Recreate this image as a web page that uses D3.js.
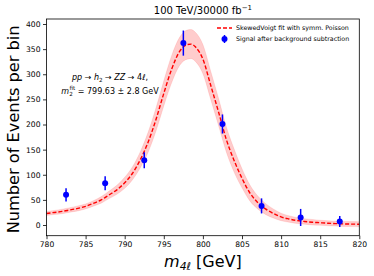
<!DOCTYPE html>
<html>
<head>
<meta charset="utf-8">
<script src="https://cdn.jsdelivr.net/npm/d3@7"></script>
<style>
  body { margin: 0; background: #fff; }
  svg text { font-family: "DejaVu Sans", sans-serif; }
</style>
</head>
<body>
<svg id="chart" width="374" height="276"></svg>
<script>
// data points (bin centers), background subtracted
const binCenters = [782.5, 787.5, 792.5, 797.5, 802.5, 807.5, 812.5, 817.5];
const signalVals = [60, 83, 129, 362, 201, 38, 15, 7];
const signalErrs = [13, 14, 16, 25, 19, 15, 17, 11];

// fitted curve
const fitX  = [780, 781, 782, 783, 784, 785, 786, 787, 788, 789, 790, 791, 792, 793, 794, 795, 796, 797, 798, 798.5, 799, 800, 801, 802, 803, 804, 805, 806, 807, 808, 809, 810, 811, 812, 813, 814, 815, 816, 817, 818, 819, 820];
const fitY  = [23, 25, 27, 30, 33, 37, 43, 50, 60, 70, 84, 103, 130, 165, 210, 262, 310, 345, 359, 360, 355, 330, 278, 225, 170, 128, 93, 64, 45, 32, 23, 16, 12, 9, 7, 5.5, 4.5, 3.5, 2.8, 2.2, 1.8, 1.5];
const fitErr = [4, 4, 4.5, 4.5, 5, 5, 5.5, 6.5, 7.5, 9, 11, 13, 16, 20, 23, 25, 27, 28, 29, 29, 29, 29, 28, 27, 25, 23, 19, 16, 13, 11, 9, 7.5, 6.5, 6, 5.5, 5.5, 5, 5, 5, 5, 5, 5];

const xTicks = [780, 785, 790, 795, 800, 805, 810, 815, 820];
const yTicks = [0, 50, 100, 150, 200, 250, 300, 350, 400];

const svg = d3.select('#chart');
const mLeft = 46.5, mRight = 359.3, mTop = 19, mBottom = 235.7;

const x = d3.scaleLinear().domain([780, 820]).range([mLeft, mRight]);
const y = d3.scaleLinear().domain([0, 400]).range([225, 24]);
y.domain([y.invert(mBottom), y.invert(mTop)]).range([mBottom, mTop]);

const fit = fitX.map(function(d, i){ return {x: d, y: fitY[i], e: fitErr[i]} });
const pts = binCenters.map(function(d, i){ return {x: d, y: signalVals[i], e: signalErrs[i]} });

const plot = svg.append('g');
plot.append('clipPath').attr('id', 'clip')
    .append('rect').attr('x', mLeft).attr('y', mTop).attr('width', mRight - mLeft).attr('height', mBottom - mTop);

// band
plot.append('path')
    .datum(fit)
    .attr('clip-path', 'url(#clip)')
    .attr('fill', 'red')
    .attr('fill-opacity', 0.2)
    .attr('stroke', 'red')
    .attr('stroke-opacity', 0.12)
    .attr('stroke-width', 0.8)
    .attr('d', d3.area().curve(d3.curveMonotoneX)
        .x(function(d){ return x(d.x) })
        .y0(function(d){ return y(d.y - d.e) })
        .y1(function(d){ return y(d.y + d.e) }));

// fit line
plot.append('path')
    .datum(fit)
    .attr('clip-path', 'url(#clip)')
    .attr('fill', 'none')
    .attr('stroke', 'red')
    .attr('stroke-width', 1.4)
    .attr('stroke-dasharray', '4,2')
    .attr('d', d3.line().curve(d3.curveMonotoneX)
        .x(function(d){ return x(d.x) })
        .y(function(d){ return y(d.y) }));

// error bars + points
plot.selectAll('line.err')
    .data(pts)
    .enter()
    .append('line')
    .attr('x1', function(d){ return x(d.x) })
    .attr('x2', function(d){ return x(d.x) })
    .attr('y1', function(d){ return y(d.y - d.e) })
    .attr('y2', function(d){ return y(d.y + d.e) })
    .attr('stroke', 'blue')
    .attr('stroke-width', 1.5);

plot.selectAll('circle')
    .data(pts)
    .enter()
    .append('circle')
    .attr('cx', function(d){ return x(d.x) })
    .attr('cy', function(d){ return y(d.y) })
    .attr('r', 3)
    .attr('fill', 'blue');

// axes
const xAxis = svg.append('g')
    .attr('transform', 'translate(0,' + mBottom + ')')
    .call(d3.axisBottom(x).tickValues(xTicks).tickSize(3.5).tickPadding(2.5));
const yAxis = svg.append('g')
    .attr('transform', 'translate(' + mLeft + ',0)')
    .call(d3.axisLeft(y).tickValues(yTicks).tickSize(3.5).tickPadding(2.5));
[xAxis, yAxis].forEach(function(a){
    a.select('.domain').remove();
    a.selectAll('text').attr('font-size', 7.6).attr('fill', '#000').attr('font-family', '"DejaVu Sans", sans-serif');
    a.selectAll('line').attr('stroke', '#000').attr('stroke-width', 0.8);
});

svg.append('rect')
    .attr('x', mLeft).attr('y', mTop)
    .attr('width', mRight - mLeft).attr('height', mBottom - mTop)
    .attr('fill', 'none').attr('stroke', '#000').attr('stroke-width', 0.8);

// title
const title = svg.append('text')
    .attr('x', (mLeft + mRight) / 2).attr('y', 14)
    .attr('text-anchor', 'middle').attr('font-size', 10);
title.append('tspan').text('100 TeV/30000 fb');
title.append('tspan').attr('dy', -4).attr('font-size', 7).text('\u22121');

// axis labels
svg.append('text')
    .attr('transform', 'translate(19,' + ((mTop + mBottom) / 2 + 2) + ') rotate(-90)')
    .attr('text-anchor', 'middle')
    .attr('font-size', 16.2)
    .text('Number of Events per bin');

const xl = svg.append('text')
    .attr('x', (mLeft + mRight) / 2).attr('y', 267)
    .attr('text-anchor', 'middle').attr('font-size', 16);
xl.append('tspan').attr('font-style', 'italic').text('m');
xl.append('tspan').attr('dy', 3).attr('font-size', 10.8).attr('font-style', 'italic').text('4\u2113');
xl.append('tspan').attr('dy', -3).text(' [GeV]');

// annotation
const a1 = svg.append('text')
    .attr('x', 110).attr('y', 80)
    .attr('text-anchor', 'middle').attr('font-size', 8);
a1.append('tspan').attr('font-style', 'italic').text('pp');
a1.append('tspan').text(' \u2192 ');
a1.append('tspan').attr('font-style', 'italic').text('h');
a1.append('tspan').attr('dy', 2).attr('font-size', 5.6).text('2');
a1.append('tspan').attr('dy', -2).text(' \u2192 ');
a1.append('tspan').attr('font-style', 'italic').text('ZZ');
a1.append('tspan').text(' \u2192 4');
a1.append('tspan').attr('font-style', 'italic').text('\u2113');
a1.append('tspan').text(',');

const a2 = svg.append('text')
    .attr('x', 110).attr('y', 94)
    .attr('text-anchor', 'middle').attr('font-size', 8);
a2.append('tspan').attr('font-style', 'italic').text('m');
a2.append('tspan').attr('dy', 2).attr('font-size', 5.6).text('2');
a2.append('tspan').attr('dy', -6).attr('dx', -3.2).attr('font-size', 5.6).text('fit');
a2.append('tspan').attr('dy', 4).text(' = 799.63 \u00b1 2.8 GeV');

// legend
const lg = svg.append('g').attr('transform', 'translate(217,28)');
lg.append('line')
    .attr('x1', 0).attr('x2', 15).attr('y1', 0).attr('y2', 0)
    .attr('stroke', 'red').attr('stroke-width', 1.4).attr('stroke-dasharray', '4,2');
lg.append('text').attr('x', 19).attr('y', 2.2).attr('font-size', 6.3).text('SkewedVoigt fit with symm. Poisson');
lg.append('line')
    .attr('x1', 7.5).attr('x2', 7.5).attr('y1', 7).attr('y2', 15)
    .attr('stroke', 'blue').attr('stroke-width', 1.5);
lg.append('circle').attr('cx', 7.5).attr('cy', 11).attr('r', 3).attr('fill', 'blue');
lg.append('text').attr('x', 19).attr('y', 13.2).attr('font-size', 6.3).text('Signal after background subtraction');
</script>
</body>
</html>
